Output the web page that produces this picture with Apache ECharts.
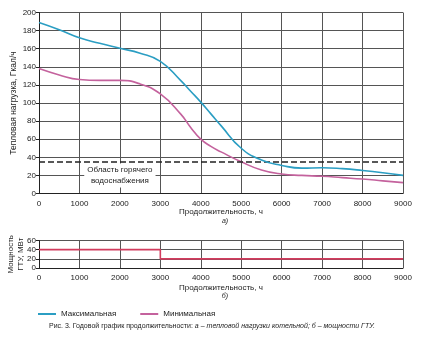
<!DOCTYPE html>
<html>
<head>
<meta charset="utf-8">
<script src="https://cdn.jsdelivr.net/npm/echarts@6/dist/echarts.min.js"></script>
<style>
html,body{margin:0;padding:0;background:#fff;}
#chart{width:424px;height:337px;}
</style>
</head>
<body>
<div id="chart"></div>
<script>
// Hours of the year (duration axis)
const hours = [0, 500, 1000, 1500, 2000, 2500, 3000, 3500, 3750, 4000, 4250, 4500, 5000, 5500, 6000, 6500, 7000, 7500, 8000, 8500, 9000];
// Boiler heat load, Gcal/h
const maxLoad = [189, 181, 172, 166, 160.5, 155, 146, 125, 113, 101, 88, 75, 50, 37, 31, 28, 28.5, 27.5, 25.5, 23, 20];
const minLoad = [138, 131, 126, 125, 125, 121, 110, 88, 73, 60, 52, 46, 35, 26, 21.5, 20, 19, 17.5, 16, 14, 12];
// Hot water supply threshold, Gcal/h
const hotWaterLevel = 35;
// Gas turbine power steps
const gtuHours = [0, 3000, 9000];
const gtuPower = [40, 20, 20];

const xTicks = { min: 0, max: 9000, interval: 1000 };
const yTicks1 = { min: 0, max: 200, interval: 20 };
const yTicks2 = { min: 0, max: 60, interval: 20 };

const colMax = '#2b9ec3';
const colMin = '#c4629d';
const colGtu = '#d23c5e';
const font = 'Liberation Sans, Arial, sans-serif';
const txt = '#222';
const fs = 8;

const pairs = (xs, ys) => xs.map((x, i) => [x, ys[i]]);
const plain = v => String(v);

const axisCommon = {
  nameMoveOverlap: false,
  axisLine: { show: true, lineStyle: { color: '#222', width: 1 } },
  axisTick: { show: false },
  axisLabel: { color: txt, fontSize: fs, fontFamily: font, margin: 6, formatter: plain },
  splitLine: { show: true, lineStyle: { color: '#555', width: 1 } }
};

const chart = echarts.init(document.getElementById('chart'), null, { renderer: 'canvas' });
chart.setOption({
  animation: false,
  backgroundColor: '#fff',
  textStyle: { fontFamily: font },
  grid: [
    { left: 39, right: 21, top: 12.5, height: 181, containLabel: false, outerBoundsMode: 'none' },
    { left: 39, right: 21, top: 240.5, height: 27.5, containLabel: false, outerBoundsMode: 'none' }
  ],
  xAxis: [
    Object.assign({}, axisCommon, {
      type: 'value', gridIndex: 0, min: xTicks.min, max: xTicks.max, interval: xTicks.interval,
      name: 'Продолжительность, ч\n{i|а)}', nameLocation: 'middle', nameGap: 14,
      nameTextStyle: { color: txt, fontSize: fs, fontFamily: font, lineHeight: 9,
        rich: { i: { fontStyle: 'italic', fontSize: 7, color: txt, lineHeight: 9, padding: [0, 0, 0, 8] } } }
    }),
    Object.assign({}, axisCommon, {
      type: 'value', gridIndex: 1, min: xTicks.min, max: xTicks.max, interval: xTicks.interval,
      name: 'Продолжительность, ч\n{i|б)}', nameLocation: 'middle', nameGap: 15,
      nameTextStyle: { color: txt, fontSize: fs, fontFamily: font, lineHeight: 9,
        rich: { i: { fontStyle: 'italic', fontSize: 7, color: txt, lineHeight: 9, padding: [0, 0, 0, 8] } } }
    })
  ],
  yAxis: [
    Object.assign({}, axisCommon, {
      type: 'value', gridIndex: 0, min: yTicks1.min, max: yTicks1.max, interval: yTicks1.interval,
      axisTick: { show: true, length: 3, lineStyle: { color: '#222' } },
      axisLabel: { color: txt, fontSize: fs, fontFamily: font, margin: 3, formatter: plain },
      name: 'Тепловая нагрузка, Гкал/ч', nameLocation: 'middle', nameGap: 21,
      nameTextStyle: { color: txt, fontSize: 8.5, fontFamily: font }
    }),
    Object.assign({}, axisCommon, {
      type: 'value', gridIndex: 1, min: yTicks2.min, max: yTicks2.max, interval: yTicks2.interval,
      axisTick: { show: true, length: 3, lineStyle: { color: '#222' } },
      axisLabel: { color: txt, fontSize: fs, fontFamily: font, margin: 3, formatter: plain },
      name: 'Мощность\nГТУ, МВт', nameLocation: 'middle', nameGap: 13,
      nameTextStyle: { color: txt, fontSize: fs, fontFamily: font, lineHeight: 10 }
    })
  ],
  legend: {
    left: 33, top: 305, itemWidth: 18, itemHeight: 2, itemGap: 24, icon: 'rect',
    textStyle: { color: txt, fontSize: fs, fontFamily: font },
    data: ['Максимальная', 'Минимальная']
  },
  title: {
    text: 'Рис. 3. Годовой график продолжительности: {i|а – тепловой нагрузки котельной; б – мощности ГТУ.}',
    left: 'center', top: 318,
    textStyle: { color: txt, fontSize: 7, fontWeight: 'normal', fontFamily: font,
      rich: { i: { fontStyle: 'italic', fontSize: 7, color: txt } } }
  },
  series: [
    {
      name: 'Максимальная', type: 'line', xAxisIndex: 0, yAxisIndex: 0,
      data: pairs(hours, maxLoad), smooth: 0.5, showSymbol: false,
      lineStyle: { color: colMax, width: 1.6 }, itemStyle: { color: colMax }, z: 5,
      markLine: {
        silent: true, symbol: 'none',
        lineStyle: { color: '#222', type: [6, 3], width: 1.6 },
        label: { show: false },
        data: [{ yAxis: hotWaterLevel }]
      },
      markPoint: {
        silent: true, symbol: 'rect', symbolSize: 0,
        data: [{ coord: [2000, 20], value: 'Область горячего\nводоснабжения' }],
        label: {
          show: true, position: 'inside', formatter: 'Область горячего\nводоснабжения',
          color: txt, fontSize: fs, fontFamily: font, lineHeight: 11,
          backgroundColor: '#fff', padding: [1, 3]
        }
      }
    },
    {
      name: 'Минимальная', type: 'line', xAxisIndex: 0, yAxisIndex: 0,
      data: pairs(hours, minLoad), smooth: 0.5, showSymbol: false,
      lineStyle: { color: colMin, width: 1.6 }, itemStyle: { color: colMin }, z: 4
    },
    {
      name: 'ГТУ', type: 'line', xAxisIndex: 1, yAxisIndex: 1,
      data: pairs(gtuHours, gtuPower), step: 'end', showSymbol: false,
      lineStyle: { color: colGtu, width: 1.6 }, itemStyle: { color: colGtu }
    }
  ]
});
</script>
</body>
</html>
